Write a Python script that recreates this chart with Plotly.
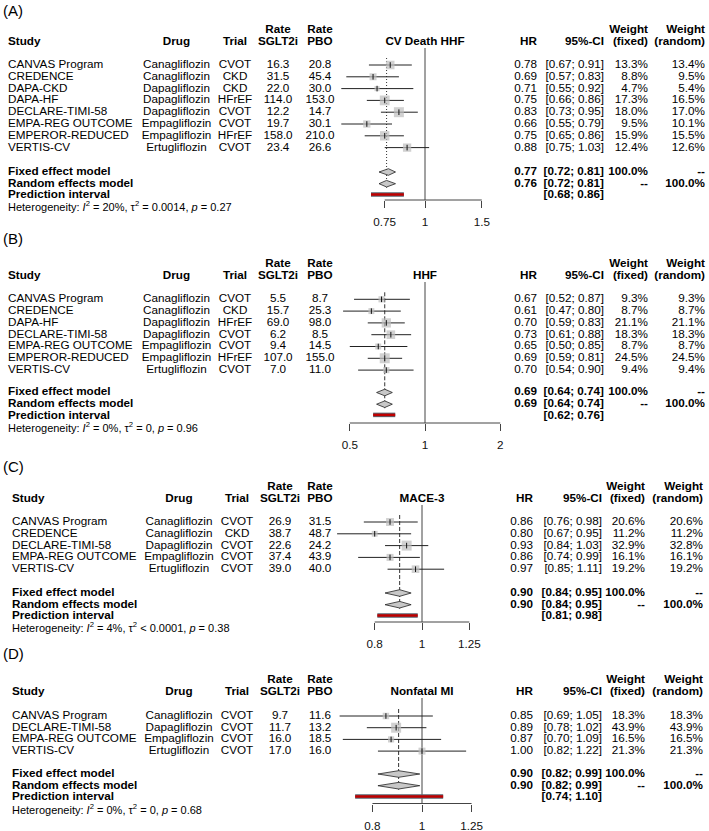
import math
import plotly.graph_objects as go

W, H = 709, 831
FONT = "Liberation Sans, Arial, sans-serif"

# ---------------- Data: Panel A ----------------
A_outcome = "CV Death HHF"
A_study = ["CANVAS Program", "CREDENCE", "DAPA-CKD", "DAPA-HF", "DECLARE-TIMI-58",
           "EMPA-REG OUTCOME", "EMPEROR-REDUCED", "VERTIS-CV"]
A_drug = ["Canagliflozin", "Canagliflozin", "Dapagliflozin", "Dapagliflozin", "Dapagliflozin",
          "Empagliflozin", "Empagliflozin", "Ertugliflozin"]
A_trial = ["CVOT", "CKD", "CKD", "HFrEF", "CVOT", "CVOT", "HFrEF", "CVOT"]
A_rate_sglt2i = [16.3, 31.5, 22.0, 114.0, 12.2, 19.7, 158.0, 23.4]
A_rate_pbo = [20.8, 45.4, 30.0, 153.0, 14.7, 30.1, 210.0, 26.6]
A_hr = [0.78, 0.69, 0.71, 0.75, 0.83, 0.66, 0.75, 0.88]
A_lo = [0.67, 0.57, 0.55, 0.66, 0.73, 0.55, 0.65, 0.75]
A_hi = [0.91, 0.83, 0.92, 0.86, 0.95, 0.79, 0.86, 1.03]
A_w_fixed = [13.3, 8.8, 4.7, 17.3, 18.0, 9.5, 15.9, 12.4]
A_w_random = [13.4, 9.5, 5.4, 16.5, 17.0, 10.1, 15.5, 12.6]
A_fixed = [0.77, 0.72, 0.81]
A_random = [0.76, 0.72, 0.81]
A_pred = [0.68, 0.86]
A_het = ["20%", "= 0.0014", "0.27"]
A_ticks = [0.75, 1, 1.5]
A_tick_labels = ["0.75", "1", "1.5"]

# ---------------- Data: Panel B ----------------
B_outcome = "HHF"
B_study = ["CANVAS Program", "CREDENCE", "DAPA-HF", "DECLARE-TIMI-58",
           "EMPA-REG OUTCOME", "EMPEROR-REDUCED", "VERTIS-CV"]
B_drug = ["Canagliflozin", "Canagliflozin", "Dapagliflozin", "Dapagliflozin",
          "Empagliflozin", "Empagliflozin", "Ertugliflozin"]
B_trial = ["CVOT", "CKD", "HFrEF", "CVOT", "CVOT", "HFrEF", "CVOT"]
B_rate_sglt2i = [5.5, 15.7, 69.0, 6.2, 9.4, 107.0, 7.0]
B_rate_pbo = [8.7, 25.3, 98.0, 8.5, 14.5, 155.0, 11.0]
B_hr = [0.67, 0.61, 0.70, 0.73, 0.65, 0.69, 0.70]
B_lo = [0.52, 0.47, 0.59, 0.61, 0.50, 0.59, 0.54]
B_hi = [0.87, 0.80, 0.83, 0.88, 0.85, 0.81, 0.90]
B_w_fixed = [9.3, 8.7, 21.1, 18.3, 8.7, 24.5, 9.4]
B_w_random = [9.3, 8.7, 21.1, 18.3, 8.7, 24.5, 9.4]
B_fixed = [0.69, 0.64, 0.74]
B_random = [0.69, 0.64, 0.74]
B_pred = [0.62, 0.76]
B_het = ["0%", "= 0", "0.96"]
B_ticks = [0.5, 1, 2]
B_tick_labels = ["0.5", "1", "2"]

# ---------------- Data: Panel C ----------------
C_outcome = "MACE-3"
C_study = ["CANVAS Program", "CREDENCE", "DECLARE-TIMI-58", "EMPA-REG OUTCOME", "VERTIS-CV"]
C_drug = ["Canagliflozin", "Canagliflozin", "Dapagliflozin", "Empagliflozin", "Ertugliflozin"]
C_trial = ["CVOT", "CKD", "CVOT", "CVOT", "CVOT"]
C_rate_sglt2i = [26.9, 38.7, 22.6, 37.4, 39.0]
C_rate_pbo = [31.5, 48.7, 24.2, 43.9, 40.0]
C_hr = [0.86, 0.80, 0.93, 0.86, 0.97]
C_lo = [0.76, 0.67, 0.84, 0.74, 0.85]
C_hi = [0.98, 0.95, 1.03, 0.99, 1.11]
C_w_fixed = [20.6, 11.2, 32.9, 16.1, 19.2]
C_w_random = [20.6, 11.2, 32.8, 16.1, 19.2]
C_fixed = [0.90, 0.84, 0.95]
C_random = [0.90, 0.84, 0.95]
C_pred = [0.81, 0.98]
C_het = ["4%", "< 0.0001", "0.38"]
C_ticks = [0.8, 1, 1.25]
C_tick_labels = ["0.8", "1", "1.25"]

# ---------------- Data: Panel D ----------------
D_outcome = "Nonfatal MI"
D_study = ["CANVAS Program", "DECLARE-TIMI-58", "EMPA-REG OUTCOME", "VERTIS-CV"]
D_drug = ["Canagliflozin", "Dapagliflozin", "Empagliflozin", "Ertugliflozin"]
D_trial = ["CVOT", "CVOT", "CVOT", "CVOT"]
D_rate_sglt2i = [9.7, 11.7, 16.0, 17.0]
D_rate_pbo = [11.6, 13.2, 18.5, 16.0]
D_hr = [0.85, 0.89, 0.87, 1.00]
D_lo = [0.69, 0.78, 0.70, 0.82]
D_hi = [1.05, 1.02, 1.09, 1.22]
D_w_fixed = [18.3, 43.9, 16.5, 21.3]
D_w_random = [18.3, 43.9, 16.5, 21.3]
D_fixed = [0.90, 0.82, 0.99]
D_random = [0.90, 0.82, 0.99]
D_pred = [0.74, 1.10]
D_het = ["0%", "= 0", "0.68"]
D_ticks = [0.8, 1, 1.25]
D_tick_labels = ["0.8", "1", "1.25"]

# ---------------- Layout (pixel positions) ----------------
COLS_AB = dict(study=8, drug=176.5, trial=235, sglt=278, pbo=320, hr=537, ci=604, wf=648, wr=705)
COLS_CD = dict(study=12, drug=179, trial=237, sglt=280, pbo=320, hr=533, ci=602, wf=645, wr=703)

panels = [
    dict(tag="(A)", outcome=A_outcome, study=A_study, drug=A_drug, trial=A_trial, rs=A_rate_sglt2i,
         rp=A_rate_pbo, hr=A_hr, lo=A_lo, hi=A_hi, wf=A_w_fixed, wr=A_w_random, fixed=A_fixed,
         random=A_random, pred=A_pred, het=A_het, ticks=A_ticks, tl=A_tick_labels,
         label_y=12, head_y=42, row0=65, step=11.8, fixed_y=172, het_y=208, axis_y=200,
         x1=425, k=140, cols=COLS_AB, dash="1px,2px"),
    dict(tag="(B)", outcome=B_outcome, study=B_study, drug=B_drug, trial=B_trial, rs=B_rate_sglt2i,
         rp=B_rate_pbo, hr=B_hr, lo=B_lo, hi=B_hi, wf=B_w_fixed, wr=B_w_random, fixed=B_fixed,
         random=B_random, pred=B_pred, het=B_het, ticks=B_ticks, tl=B_tick_labels,
         label_y=240, head_y=276, row0=299.3, step=11.8, fixed_y=392.5, het_y=429, axis_y=423,
         x1=425, k=108.5, cols=COLS_AB, dash="4px,2px"),
    dict(tag="(C)", outcome=C_outcome, study=C_study, drug=C_drug, trial=C_trial, rs=C_rate_sglt2i,
         rp=C_rate_pbo, hr=C_hr, lo=C_lo, hi=C_hi, wf=C_w_fixed, wr=C_w_random, fixed=C_fixed,
         random=C_random, pred=C_pred, het=C_het, ticks=C_ticks, tl=C_tick_labels,
         label_y=468, head_y=499, row0=522, step=11.8, fixed_y=593, het_y=629, axis_y=622,
         x1=422, k=212, cols=COLS_CD, dash="4px,2px"),
    dict(tag="(D)", outcome=D_outcome, study=D_study, drug=D_drug, trial=D_trial, rs=D_rate_sglt2i,
         rp=D_rate_pbo, hr=D_hr, lo=D_lo, hi=D_hi, wf=D_w_fixed, wr=D_w_random, fixed=D_fixed,
         random=D_random, pred=D_pred, het=D_het, ticks=D_ticks, tl=D_tick_labels,
         label_y=655, head_y=692, row0=716, step=11.7, fixed_y=774, het_y=811, axis_y=803.5,
         x1=422, k=222, cols=COLS_CD, dash="4px,2px"),
]

FS = 11.7
T = dict(x=[], y=[], text=[], pos=[], size=[])
POS = {"left": "middle right", "center": "middle center", "right": "middle left"}


def put(x, y, s, align="left", size=FS, bold=False):
    T["x"].append(x)
    T["y"].append(y)
    T["text"].append(f"<b>{s}</b>" if bold else s)
    T["pos"].append(POS[align])
    T["size"].append(size)


fig = go.Figure()
layout_axes = {}
LN10 = math.log(10)
P0, P1 = 330, 515
LINE_C = "#222222"
SQ_C = "#BDBDBD"

for i, p in enumerate(panels):
    c = p["cols"]
    n = len(p["study"])
    ys = [p["row0"] + j * p["step"] for j in range(n)]
    fy = p["fixed_y"]
    ry = fy + 11.7
    py = fy + 23.4
    hy = p["head_y"]

    # ---- text columns ----
    put(3, p["label_y"], p["tag"], "left", size=15)
    put(c["sglt"], hy - 12, "Rate", "center", bold=True)
    put(c["pbo"], hy - 12, "Rate", "center", bold=True)
    put(c["wf"], hy - 12, "Weight", "right", bold=True)
    put(c["wr"], hy - 12, "Weight", "right", bold=True)
    put(c["study"], hy, "Study", "left", bold=True)
    put(c["drug"], hy, "Drug", "center", bold=True)
    put(c["trial"], hy, "Trial", "center", bold=True)
    put(c["sglt"], hy, "SGLT2i", "center", bold=True)
    put(c["pbo"], hy, "PBO", "center", bold=True)
    put(p["x1"], hy, p["outcome"], "center", bold=True)
    put(c["hr"], hy, "HR", "right", bold=True)
    put(c["ci"], hy, "95%-CI", "right", bold=True)
    put(c["wf"], hy, "(fixed)", "right", bold=True)
    put(c["wr"], hy, "(random)", "right", bold=True)
    for j in range(n):
        y = ys[j]
        put(c["study"], y, p["study"][j], "left")
        put(c["drug"], y, p["drug"][j], "center")
        put(c["trial"], y, p["trial"][j], "center")
        put(c["sglt"], y, f"{p['rs'][j]:.1f}", "center")
        put(c["pbo"], y, f"{p['rp'][j]:.1f}", "center")
        put(c["hr"], y, f"{p['hr'][j]:.2f}", "right")
        put(c["ci"], y, f"[{p['lo'][j]:.2f}; {p['hi'][j]:.2f}]", "right")
        put(c["wf"], y, f"{p['wf'][j]:.1f}%", "right")
        put(c["wr"], y, f"{p['wr'][j]:.1f}%", "right")
    put(c["study"], fy, "Fixed effect model", "left", bold=True)
    put(c["study"], ry, "Random effects model", "left", bold=True)
    put(c["study"], py, "Prediction interval", "left", bold=True)
    fe, rr, pi = p["fixed"], p["random"], p["pred"]
    put(c["hr"], fy, f"{fe[0]:.2f}", "right", bold=True)
    put(c["ci"], fy, f"[{fe[1]:.2f}; {fe[2]:.2f}]", "right", bold=True)
    put(c["wf"], fy, "100.0%", "right", bold=True)
    put(c["wr"], fy, "--", "right", bold=True)
    put(c["hr"], ry, f"{rr[0]:.2f}", "right", bold=True)
    put(c["ci"], ry, f"[{rr[1]:.2f}; {rr[2]:.2f}]", "right", bold=True)
    put(c["wf"], ry, "--", "right", bold=True)
    put(c["wr"], ry, "100.0%", "right", bold=True)
    put(c["ci"], py, f"[{pi[0]:.2f}; {pi[1]:.2f}]", "right", bold=True)
    i2, tau, pv = p["het"]
    put(c["study"], p["het_y"],
        f"Heterogeneity: <i>I</i><sup>2</sup> = {i2}, τ<sup>2</sup> {tau}, <i>p</i> = {pv}",
        "left", size=11)

    # ---- forest axis ----
    xa = f"x{i + 2}"
    r0 = (P0 - p["x1"]) / (p["k"] * LN10)
    r1 = (P1 - p["x1"]) / (p["k"] * LN10)
    layout_axes[f"xaxis{i + 2}"] = dict(
        type="log", domain=[P0 / W, P1 / W], range=[r0, r1], anchor="free",
        position=1 - p["axis_y"] / H, showgrid=False, zeroline=False, showline=False,
        ticks="outside", ticklen=7, tickwidth=1, tickcolor="#444444",
        tickvals=p["ticks"], ticktext=p["tl"], ticklabelstandoff=4,
        tickfont=dict(family=FONT, size=FS, color="#111111"), fixedrange=True,
    )

    def line(xv, yv, color=LINE_C, width=1, dash=None):
        fig.add_trace(go.Scatter(x=xv, y=yv, xaxis=xa, yaxis="y", mode="lines",
                                 line=dict(color=color, width=width, dash=dash),
                                 hoverinfo="skip", showlegend=False))

    # reference line at 1
    line([1, 1], [hy + 6, p["axis_y"]], color="#444444", width=1)
    # random-effect estimate line
    line([rr[0], rr[0]], [p["row0"] - 7, ry + 4], color="#333333", width=1, dash=p["dash"])
    # axis baseline between outer ticks
    line([p["ticks"][0], p["ticks"][-1]], [p["axis_y"], p["axis_y"]], color="#444444", width=1)
    # CI lines
    cx, cy = [], []
    for j in range(n):
        cx += [p["lo"][j], p["hi"][j], None]
        cy += [ys[j], ys[j], None]
    line(cx, cy, color=LINE_C, width=1)
    # squares (area ~ weight)
    wmax = max(p["wf"])
    sizes = [10 * math.sqrt(w / wmax) for w in p["wf"]]
    fig.add_trace(go.Scatter(x=p["hr"], y=ys, xaxis=xa, yaxis="y", mode="markers",
                             marker=dict(symbol="square", size=sizes, color=SQ_C, line=dict(width=0)),
                             hoverinfo="skip", showlegend=False))
    fig.add_trace(go.Scatter(x=p["hr"], y=ys, xaxis=xa, yaxis="y", mode="markers",
                             marker=dict(symbol="line-ns", size=4, line=dict(color="#111111", width=1)),
                             hoverinfo="skip", showlegend=False))
    # diamonds
    for est, yc in ((fe, fy), (rr, ry)):
        hd = 3.3
        fig.add_trace(go.Scatter(x=[est[1], est[0], est[2], est[0], est[1]],
                                 y=[yc, yc - hd, yc, yc + hd, yc], xaxis=xa, yaxis="y",
                                 mode="lines", fill="toself", fillcolor="#C8C8C8",
                                 line=dict(color="#222222", width=0.8),
                                 hoverinfo="skip", showlegend=False))
    # prediction interval
    line([pi[0], pi[1]], [py - 1, py - 1], color="#5A6470", width=4.5)
    line([pi[0], pi[1]], [py - 1, py - 1], color="#C00000", width=2.5)

# text layer
fig.add_trace(go.Scatter(x=T["x"], y=T["y"], text=T["text"], mode="text", xaxis="x", yaxis="y",
                         textposition=T["pos"],
                         textfont=dict(family=FONT, size=T["size"], color="#000000"),
                         hoverinfo="skip", showlegend=False, cliponaxis=False))

fig.update_layout(
    width=W, height=H, autosize=False,
    margin=dict(l=0, r=0, t=0, b=0),
    paper_bgcolor="white", plot_bgcolor="rgba(0,0,0,0)",
    showlegend=False, hovermode=False,
    xaxis=dict(domain=[0, 1], range=[0, W], visible=False, fixedrange=True),
    yaxis=dict(domain=[0, 1], range=[H, 0], visible=False, fixedrange=True),
    **layout_axes,
)

fig.write_html("out.html", config={"displayModeBar": False},
               post_script="document.body.style.margin='0';document.body.style.overflow='hidden';")
